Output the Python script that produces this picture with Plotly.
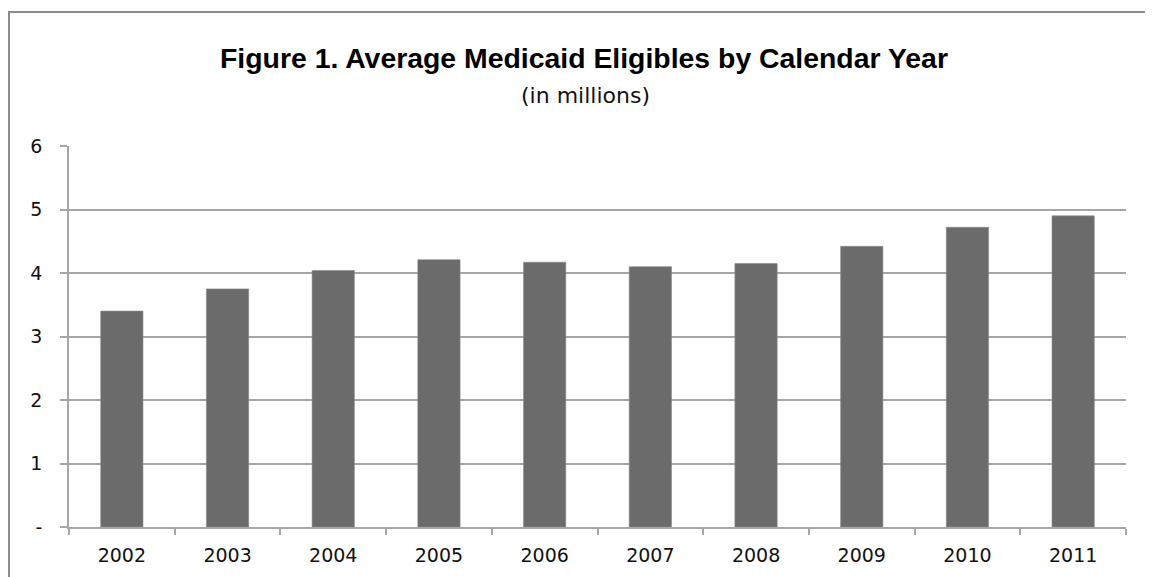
import plotly.graph_objects as go

years = ["2002", "2003", "2004", "2005", "2006", "2007", "2008", "2009", "2010", "2011"]
eligibles = [3.40, 3.75, 4.04, 4.21, 4.17, 4.10, 4.15, 4.42, 4.72, 4.90]
y_tick_vals = [0, 1, 2, 3, 4, 5, 6]
y_tick_text = ["-", "1", "2", "3", "4", "5", "6"]

title_text = "Figure 1. Average Medicaid Eligibles by Calendar Year"
subtitle_text = "(in millions)"

# page body has an 8px margin; the figure is sized so it fills the window
OFF = 8
W, H = 1153 - OFF, 577 - OFF
ML, MR, MT, MB = 69 - OFF, 27, 146 - OFF, 50
plot_w = W - ML - MR
plot_h = H - MT - MB

def px_x(px):
    return (px - OFF - ML) / plot_w

def px_y(py):
    return (H - MB - (py - OFF)) / plot_h

grid_col = "#a6a6a6"

fig = go.Figure(go.Bar(
    x=years, y=eligibles,
    marker=dict(color="#6b6b6b", line=dict(color="#8a8a8a", width=0.6)),
    width=0.4,
))

fig.update_layout(
    width=W, height=H,
    margin=dict(l=ML, r=MR, t=MT, b=MB),
    paper_bgcolor="white", plot_bgcolor="white",
    showlegend=False,
    font=dict(family="DejaVu Sans", color="#111111"),
    xaxis=dict(
        type="category",
        tickson="boundaries",
        ticks="outside", ticklen=6, tickcolor=grid_col, tickwidth=1.5,
        showline=True, linecolor=grid_col, linewidth=1.5,
        showgrid=False,
        tickfont=dict(family="DejaVu Sans", size=19, color="#111111"),
        ticklabelstandoff=10,
    ),
    yaxis=dict(
        range=[0, 6],
        tickvals=y_tick_vals, ticktext=y_tick_text,
        ticks="outside", ticklen=7, tickcolor=grid_col, tickwidth=1.5,
        showline=True, linecolor=grid_col, linewidth=1.5,
        showgrid=True, gridcolor=grid_col, gridwidth=1.5,
        zeroline=False,
        tickfont=dict(family="DejaVu Sans", size=19, color="#111111"),
        ticklabelstandoff=14,
    ),
    annotations=[
        dict(text="<b>" + title_text + "</b>", x=px_x(583.5), y=px_y(58),
             xref="paper", yref="paper", xanchor="center", yanchor="middle",
             showarrow=False,
             font=dict(family="Liberation Sans", size=28.4, color="#000000")),
        dict(text=subtitle_text, x=px_x(585), y=px_y(95),
             xref="paper", yref="paper", xanchor="center", yanchor="middle",
             showarrow=False,
             font=dict(family="DejaVu Sans", size=22, color="#111111")),
    ],
    shapes=[
        dict(type="rect", xref="paper", yref="paper",
             x0=px_x(9), x1=px_x(1300), y0=px_y(700), y1=px_y(12),
             line=dict(color="#8c8c8c", width=2), fillcolor="rgba(0,0,0,0)",
             layer="below"),
    ],
)

fig.write_html("out.html")
